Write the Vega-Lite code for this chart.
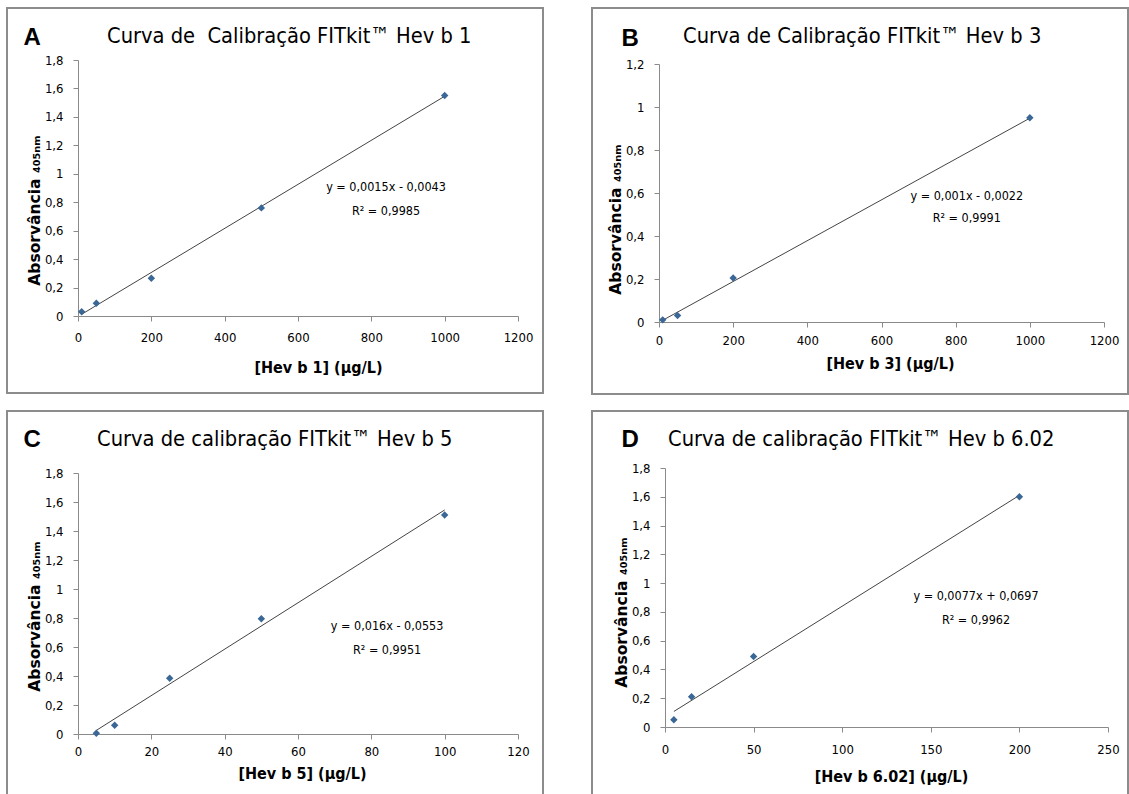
{
  "$schema": "https://vega.github.io/schema/vega-lite/v6.json",
  "background": "white",
  "padding": {"left": 6, "top": 7, "right": 0, "bottom": 0},
  "datasets": {
    "ptsA": [{"x": 10, "y": 0.03}, {"x": 50, "y": 0.09}, {"x": 200, "y": 0.265}, {"x": 500, "y": 0.76}, {"x": 1000, "y": 1.55}],
    "lineA": [{"x": 10, "y": 0.012}, {"x": 1000, "y": 1.545}],
    "eqA": [{"x": 840, "y": 0.907, "t": "y = 0,0015x - 0,0043"}, {"x": 840, "y": 0.738, "t": "R² = 0,9985"}],
    "ptsB": [{"x": 10, "y": 0.01}, {"x": 50, "y": 0.03}, {"x": 200, "y": 0.205}, {"x": 1000, "y": 0.95}],
    "lineB": [{"x": 10, "y": 0.008}, {"x": 1000, "y": 0.948}],
    "eqB": [{"x": 830, "y": 0.586, "t": "y = 0,001x - 0,0022"}, {"x": 830, "y": 0.484, "t": "R² = 0,9991"}],
    "ptsC": [{"x": 5, "y": 0.005}, {"x": 10, "y": 0.06}, {"x": 25, "y": 0.385}, {"x": 50, "y": 0.795}, {"x": 100, "y": 1.51}],
    "lineC": [{"x": 5, "y": 0.025}, {"x": 100, "y": 1.545}],
    "eqC": [{"x": 84.3, "y": 0.745, "t": "y = 0,016x - 0,0553"}, {"x": 84.3, "y": 0.579, "t": "R² = 0,9951"}],
    "ptsD": [{"x": 5, "y": 0.05}, {"x": 15, "y": 0.21}, {"x": 50, "y": 0.49}, {"x": 200, "y": 1.6}],
    "lineD": [{"x": 5, "y": 0.108}, {"x": 200, "y": 1.61}],
    "eqD": [{"x": 175.5, "y": 0.91, "t": "y = 0,0077x + 0,0697"}, {"x": 175.5, "y": 0.744, "t": "R² = 0,9962"}]
  },
  "spacing": 15,
  "vconcat": [
    {
      "spacing": 47,
      "hconcat": [
        {
          "width": 536, "height": 385,
          "title": {"text": "Curva de \u00a0Calibração FITkit™ Hev b 1", "dx": 100},
          "resolve": {"axis": {"x": "independent"}},
          "encoding": {
            "y": {"field": "y", "type": "quantitative", "scale": {"domain": [0, 1.8], "range": [308, 52], "nice": false, "zero": false},
                  "axis": {"title": "Absorvância ₄₀₅ₙₘ", "titleY": 202, "offset": -71, "values": [0, 0.2, 0.4, 0.6, 0.8, 1, 1.2, 1.4, 1.6, 1.8], "labelExpr": "replace(toString(datum.value), '.', ',')"}}
          },
          "layer": [
            {"data": {"name": "lineA"}, "mark": {"type": "line", "color": "#444444", "strokeWidth": 1},
             "encoding": {"x": {"field": "x", "type": "quantitative", "scale": {"domain": [0, 1200], "range": [71, 511], "nice": false, "zero": false},
                  "axis": {"title": "[Hev b 1] (µg/L)", "orient": "bottom", "offset": -77, "format": "d", "values": [0, 200, 400, 600, 800, 1000, 1200], "labelPadding": 10, "titlePadding": 15, "titleX": 311}}}},
            {"data": {"name": "ptsA"}, "mark": {"type": "point", "shape": "diamond", "filled": true, "color": "#3a6796", "size": 55, "opacity": 1},
             "encoding": {"x": {"field": "x", "type": "quantitative", "scale": {"domain": [0, 1200], "range": [71, 511], "nice": false, "zero": false}, "axis": null}}},
            {"data": {"name": "eqA"}, "mark": {"type": "text", "font": "DejaVu Sans Condensed, sans-serif", "fontSize": 12.5, "color": "#000000"},
             "encoding": {"text": {"field": "t"},
               "x": {"field": "x", "type": "quantitative", "scale": {"domain": [0, 1200], "range": [71, 511], "nice": false, "zero": false},
                     "axis": {"orient": "top", "title": "A", "offset": 0, "labels": false, "ticks": false, "domain": false, "titleX": 16, "titleY": 36}}}}
          ]
        },
        {
          "width": 536, "height": 386,
          "title": {"text": "Curva de Calibração FITkit™ Hev b 3", "dx": 91},
          "resolve": {"axis": {"x": "independent"}},
          "encoding": {
            "y": {"field": "y", "type": "quantitative", "scale": {"domain": [0, 1.2], "range": [314, 56], "nice": false, "zero": false},
                  "axis": {"title": "Absorvância ₄₀₅ₙₘ", "titleY": 211, "offset": -67, "values": [0, 0.2, 0.4, 0.6, 0.8, 1, 1.2], "labelExpr": "replace(toString(datum.value), '.', ',')"}}
          },
          "layer": [
            {"data": {"name": "lineB"}, "mark": {"type": "line", "color": "#444444", "strokeWidth": 1},
             "encoding": {"x": {"field": "x", "type": "quantitative", "scale": {"domain": [0, 1200], "range": [67, 512], "nice": false, "zero": false},
                  "axis": {"title": "[Hev b 3] (µg/L)", "orient": "bottom", "offset": -72, "format": "d", "values": [0, 200, 400, 600, 800, 1000, 1200], "labelPadding": 7, "titlePadding": 8, "titleX": 298}}}},
            {"data": {"name": "ptsB"}, "mark": {"type": "point", "shape": "diamond", "filled": true, "color": "#3a6796", "size": 55, "opacity": 1},
             "encoding": {"x": {"field": "x", "type": "quantitative", "scale": {"domain": [0, 1200], "range": [67, 512], "nice": false, "zero": false}, "axis": null}}},
            {"data": {"name": "eqB"}, "mark": {"type": "text", "font": "DejaVu Sans Condensed, sans-serif", "fontSize": 12.5, "color": "#000000"},
             "encoding": {"text": {"field": "t"},
               "x": {"field": "x", "type": "quantitative", "scale": {"domain": [0, 1200], "range": [67, 512], "nice": false, "zero": false},
                     "axis": {"orient": "top", "title": "B", "offset": 0, "labels": false, "ticks": false, "domain": false, "titleX": 29, "titleY": 37}}}}
          ]
        }
      ]
    },
    {
      "spacing": 47,
      "hconcat": [
        {
          "width": 536, "height": 390,
          "title": {"text": "Curva de calibração FITkit™ Hev b 5", "dx": 90},
          "resolve": {"axis": {"x": "independent"}},
          "encoding": {
            "y": {"field": "y", "type": "quantitative", "scale": {"domain": [0, 1.8], "range": [323, 62], "nice": false, "zero": false},
                  "axis": {"title": "Absorvância ₄₀₅ₙₘ", "titleY": 205, "offset": -71, "values": [0, 0.2, 0.4, 0.6, 0.8, 1, 1.2, 1.4, 1.6, 1.8], "labelExpr": "replace(toString(datum.value), '.', ',')"}}
          },
          "layer": [
            {"data": {"name": "lineC"}, "mark": {"type": "line", "color": "#444444", "strokeWidth": 1},
             "encoding": {"x": {"field": "x", "type": "quantitative", "scale": {"domain": [0, 120], "range": [71, 511], "nice": false, "zero": false},
                  "axis": {"title": "[Hev b 5] (µg/L)", "orient": "bottom", "offset": -67, "format": "d", "values": [0, 20, 40, 60, 80, 100, 120], "labelPadding": 6, "titlePadding": 7, "titleX": 295}}}},
            {"data": {"name": "ptsC"}, "mark": {"type": "point", "shape": "diamond", "filled": true, "color": "#3a6796", "size": 55, "opacity": 1},
             "encoding": {"x": {"field": "x", "type": "quantitative", "scale": {"domain": [0, 120], "range": [71, 511], "nice": false, "zero": false}, "axis": null}}},
            {"data": {"name": "eqC"}, "mark": {"type": "text", "font": "DejaVu Sans Condensed, sans-serif", "fontSize": 12.5, "color": "#000000"},
             "encoding": {"text": {"field": "t"},
               "x": {"field": "x", "type": "quantitative", "scale": {"domain": [0, 120], "range": [71, 511], "nice": false, "zero": false},
                     "axis": {"orient": "top", "title": "C", "offset": 0, "labels": false, "ticks": false, "domain": false, "titleX": 16, "titleY": 35}}}}
          ]
        },
        {
          "width": 536, "height": 390,
          "title": {"text": "Curva de calibração FITkit™ Hev b 6.02", "dx": 76},
          "resolve": {"axis": {"x": "independent"}},
          "encoding": {
            "y": {"field": "y", "type": "quantitative", "scale": {"domain": [0, 1.8], "range": [316, 57], "nice": false, "zero": false},
                  "axis": {"title": "Absorvância ₄₀₅ₙₘ", "titleY": 201, "offset": -73, "values": [0, 0.2, 0.4, 0.6, 0.8, 1, 1.2, 1.4, 1.6, 1.8], "labelExpr": "replace(toString(datum.value), '.', ',')"}}
          },
          "layer": [
            {"data": {"name": "lineD"}, "mark": {"type": "line", "color": "#444444", "strokeWidth": 1},
             "encoding": {"x": {"field": "x", "type": "quantitative", "scale": {"domain": [0, 250], "range": [73, 516], "nice": false, "zero": false},
                  "axis": {"title": "[Hev b 6.02] (µg/L)", "orient": "bottom", "offset": -74, "format": "d", "values": [0, 50, 100, 150, 200, 250], "labelPadding": 11, "titlePadding": 12, "titleX": 299}}}},
            {"data": {"name": "ptsD"}, "mark": {"type": "point", "shape": "diamond", "filled": true, "color": "#3a6796", "size": 55, "opacity": 1},
             "encoding": {"x": {"field": "x", "type": "quantitative", "scale": {"domain": [0, 250], "range": [73, 516], "nice": false, "zero": false}, "axis": null}}},
            {"data": {"name": "eqD"}, "mark": {"type": "text", "font": "DejaVu Sans Condensed, sans-serif", "fontSize": 12.5, "color": "#000000"},
             "encoding": {"text": {"field": "t"},
               "x": {"field": "x", "type": "quantitative", "scale": {"domain": [0, 250], "range": [73, 516], "nice": false, "zero": false},
                     "axis": {"orient": "top", "title": "D", "offset": 0, "labels": false, "ticks": false, "domain": false, "titleX": 29, "titleY": 35}}}}
          ]
        }
      ]
    }
  ],
  "config": {
    "view": {"stroke": "#8c8c8c", "strokeWidth": 2},
    "title": {
      "anchor": "start", "orient": "top", "frame": "group", "offset": -40,
      "font": "DejaVu Sans Condensed, sans-serif", "fontSize": 21.7, "fontWeight": "normal", "color": "#000000"
    },
    "axis": {
      "grid": false, "domainColor": "#8a8a8a", "tickColor": "#8a8a8a", "tickSize": 5, "domainWidth": 1, "tickWidth": 1,
      "labelFont": "DejaVu Sans Condensed, sans-serif", "labelFontSize": 13, "labelColor": "#000000",
      "labelPadding": 6, "labelFlush": false, "labelOverlap": false,
      "titleFont": "DejaVu Sans Condensed, sans-serif", "titleFontSize": 16, "titleFontWeight": "bold", "titleColor": "#000000"
    },
    "axisY": {"titleFont": "DejaVu Sans, Verdana, sans-serif", "titleFontSize": 15.5, "titlePadding": 2, "labelPadding": 10},
    "axisTop": {"titleFont": "Liberation Sans, Arial, sans-serif", "titleFontSize": 24, "titleFontWeight": "bold", "titleAlign": "left", "titleBaseline": "alphabetic", "titleAngle": 0}
  }
}
